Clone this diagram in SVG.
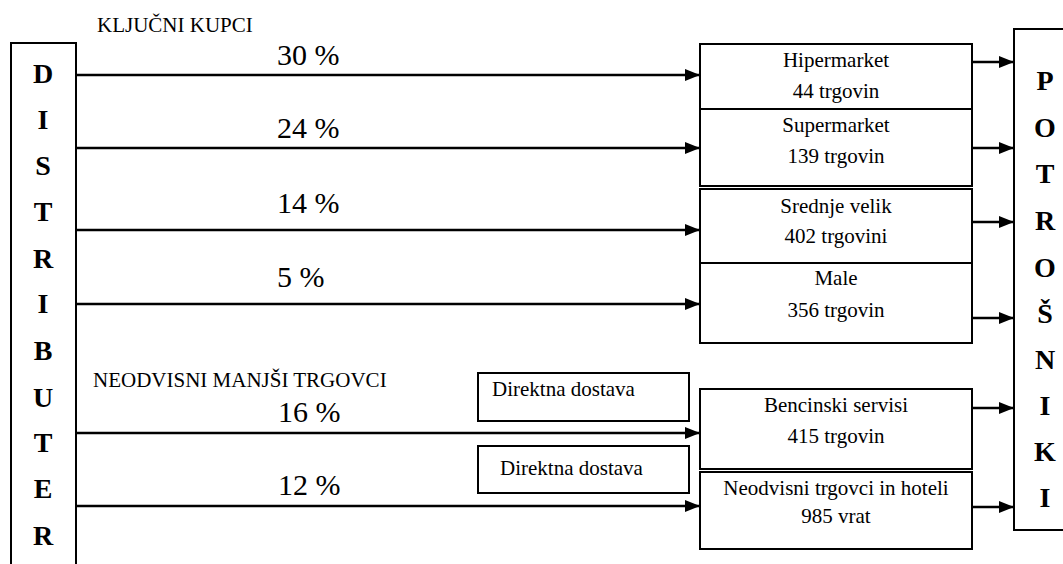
<svg xmlns="http://www.w3.org/2000/svg" width="1063" height="564" viewBox="0 0 1063 564">
<defs>
<marker id="ah" markerWidth="15" markerHeight="12" refX="15" refY="6" orient="auto" markerUnits="userSpaceOnUse">
<path d="M0,0 L15,6 L0,12 Z" fill="#000"/>
</marker>
</defs>
<rect width="1063" height="564" fill="#fff"/>
<g id="distributer" font-family="Liberation Serif" font-weight="bold" font-size="28" text-anchor="middle" fill="#000">
<rect x="11" y="43" width="65" height="540" fill="#fff" stroke="#000" stroke-width="2"/>
<text x="43" y="83">D</text>
<text x="43" y="129">I</text>
<text x="43" y="175">S</text>
<text x="43" y="221">T</text>
<text x="43" y="268">R</text>
<text x="43" y="313">I</text>
<text x="43" y="360">B</text>
<text x="43" y="407">U</text>
<text x="43" y="452">T</text>
<text x="43" y="498">E</text>
<text x="43" y="545">R</text>
</g>
<g id="potrosniki" font-family="Liberation Serif" font-weight="bold" font-size="28" text-anchor="middle" fill="#000">
<rect x="1014" y="29" width="70" height="501" fill="#fff" stroke="#000" stroke-width="2"/>
<text x="1045" y="90">P</text>
<text x="1045" y="137">O</text>
<text x="1045" y="183">T</text>
<text x="1045" y="230">R</text>
<text x="1045" y="277">O</text>
<text x="1045" y="323">&#352;</text>
<text x="1045" y="369">N</text>
<text x="1045" y="415">I</text>
<text x="1045" y="461">K</text>
<text x="1045" y="507">I</text>
</g>
<g id="labels" font-family="Liberation Serif" font-size="21" fill="#000">
<text x="97" y="32">KLJU&#268;NI KUPCI</text>
<text x="93" y="387">NEODVISNI MANJ&#352;I TRGOVCI</text>
</g>
<g id="hipermarket" font-family="Liberation Serif" font-size="21" text-anchor="middle">
<rect x="700" y="44" width="272" height="65" fill="#fff" stroke="#000" stroke-width="2"/>
<text x="836" y="67">Hipermarket</text>
<text x="836" y="98">44 trgovin</text>
</g>
<g id="supermarket" font-family="Liberation Serif" font-size="21" text-anchor="middle">
<rect x="700" y="109" width="272" height="77" fill="#fff" stroke="#000" stroke-width="2"/>
<text x="836" y="132">Supermarket</text>
<text x="836" y="163">139 trgovin</text>
</g>
<g id="srednje" font-family="Liberation Serif" font-size="21" text-anchor="middle">
<rect x="700" y="189" width="272" height="74" fill="#fff" stroke="#000" stroke-width="2"/>
<text x="836" y="213">Srednje velik</text>
<text x="836" y="243">402 trgovini</text>
</g>
<g id="male" font-family="Liberation Serif" font-size="21" text-anchor="middle">
<rect x="700" y="263" width="272" height="80" fill="#fff" stroke="#000" stroke-width="2"/>
<text x="836" y="285">Male</text>
<text x="836" y="317">356 trgovin</text>
</g>
<g id="bencinski" font-family="Liberation Serif" font-size="21" text-anchor="middle">
<rect x="700" y="389" width="272" height="80" fill="#fff" stroke="#000" stroke-width="2"/>
<text x="836" y="412">Bencinski servisi</text>
<text x="836" y="443">415 trgovin</text>
</g>
<g id="neodvisni" font-family="Liberation Serif" font-size="21" text-anchor="middle">
<rect x="700" y="472" width="272" height="77" fill="#fff" stroke="#000" stroke-width="2"/>
<text x="836" y="495">Neodvisni trgovci in hoteli</text>
<text x="836" y="523">985 vrat</text>
</g>
<g id="direktna1" font-family="Liberation Serif" font-size="21">
<rect x="478" y="373" width="211" height="48" fill="#fff" stroke="#000" stroke-width="2"/>
<text x="492" y="396">Direktna dostava</text>
</g>
<g id="direktna2" font-family="Liberation Serif" font-size="21">
<rect x="478" y="446" width="211" height="47" fill="#fff" stroke="#000" stroke-width="2"/>
<text x="500" y="475">Direktna dostava</text>
</g>
<g id="connectors" stroke="#000" stroke-width="2.5" fill="none" marker-end="url(#ah)">
<line x1="76" y1="75" x2="700" y2="75"/>
<line x1="76" y1="148" x2="700" y2="148"/>
<line x1="76" y1="230" x2="700" y2="230"/>
<line x1="76" y1="304" x2="700" y2="304"/>
<line x1="76" y1="433" x2="700" y2="433"/>
<line x1="76" y1="506" x2="700" y2="506"/>
<line x1="972" y1="62" x2="1014" y2="62"/>
<line x1="972" y1="148" x2="1014" y2="148"/>
<line x1="972" y1="222" x2="1014" y2="222"/>
<line x1="972" y1="318" x2="1014" y2="318"/>
<line x1="972" y1="408" x2="1014" y2="408"/>
<line x1="972" y1="507" x2="1014" y2="507"/>
</g>
<g id="connector-labels" font-family="Liberation Serif" font-size="30" fill="#000">
<text x="277" y="65">30 %</text>
<text x="277" y="138">24 %</text>
<text x="277" y="213">14 %</text>
<text x="277" y="287">5 %</text>
<text x="278" y="422">16 %</text>
<text x="278" y="495">12 %</text>
</g>
</svg>
